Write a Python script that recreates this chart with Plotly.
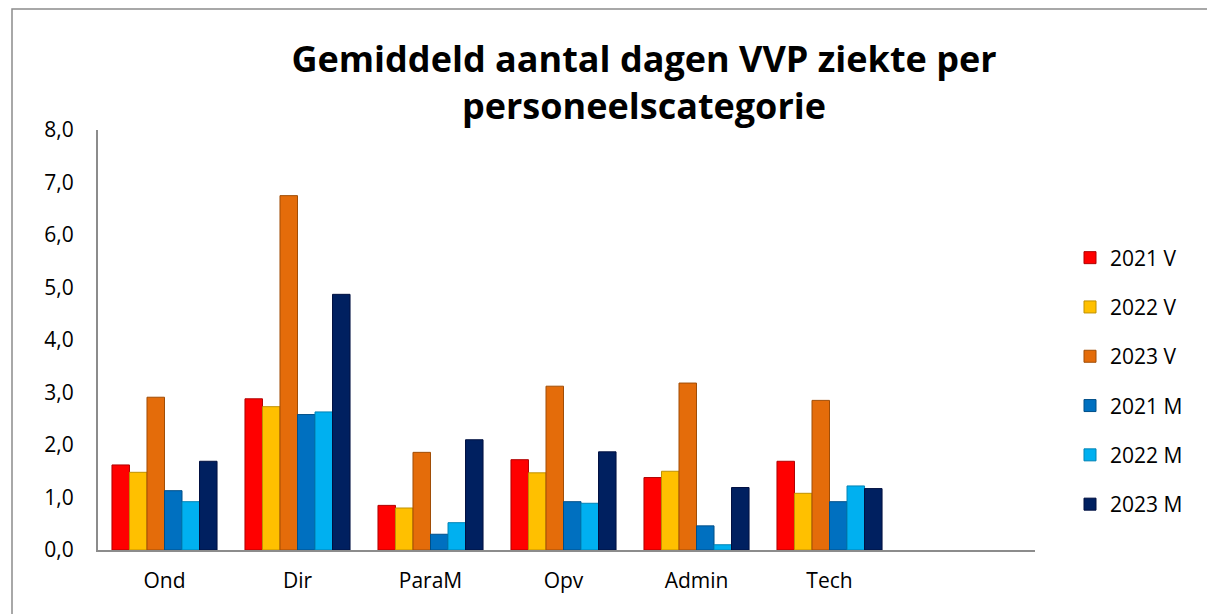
import plotly.graph_objects as go

categories = ["Ond", "Dir", "ParaM", "Opv", "Admin", "Tech"]
series_names = ["2021 V", "2022 V", "2023 V", "2021 M", "2022 M", "2023 M"]
v2021 = [1.62, 2.88, 0.85, 1.72, 1.38, 1.69]
v2022 = [1.48, 2.73, 0.80, 1.47, 1.50, 1.08]
v2023 = [2.91, 6.75, 1.86, 3.12, 3.18, 2.85]
m2021 = [1.13, 2.58, 0.30, 0.92, 0.46, 0.92]
m2022 = [0.92, 2.63, 0.52, 0.89, 0.10, 1.22]
m2023 = [1.69, 4.87, 2.10, 1.87, 1.19, 1.17]
series_values = [v2021, v2022, v2023, m2021, m2022, m2023]
colors = ["#FF0000", "#FFC000", "#E46C0A", "#0070C0", "#00B0F0", "#002060"]
edge = ["#B00000", "#C09000", "#A04D06", "#004F88", "#0083B5", "#001040"]

fig = go.Figure()
for name, vals, c, e in zip(series_names, series_values, colors, edge):
    fig.add_trace(go.Bar(
        x=categories, y=vals, name=name, legendgroup=name,
        marker=dict(color=c, line=dict(color=e, width=1)),
    ))

# page body adds an 8px offset; figure coords = screen coords - 8
W, H = 1207, 606
L, R, T, B = 90, 180, 122, 64
pw, ph = W - L - R, H - T - B

def px_x(x):
    return (x - L) / pw

def px_y(y):
    return (H - B - y) / ph

FONT = "Open Sans, Lato, Liberation Sans, sans-serif"

fig.update_layout(
    width=W, height=H,
    margin=dict(l=L, r=R, t=T, b=B),
    paper_bgcolor="white", plot_bgcolor="white",
    separators=",.",
    barmode="group", bargap=0.21, bargroupgap=0,
    font=dict(family=FONT, color="#000000", size=21),
    title=dict(
        text="<b>Gemiddeld aantal dagen VVP ziekte per<br>personeelscategorie</b>",
        x=636 / W, xanchor="center", xref="container",
        y=1 - 64 / H, yanchor="middle", yref="container",
        font=dict(size=36, color="#000000", family=FONT),
    ),
    xaxis=dict(
        type="category", categoryorder="array", categoryarray=categories,
        range=[-0.5, 6.545], showline=True, linecolor="#8C8C8C", linewidth=2,
        showgrid=False, ticks="", zeroline=False, ticklabelstandoff=11,
        tickfont=dict(size=21),
    ),
    yaxis=dict(
        range=[0, 8], dtick=1, tickformat=".1f", showline=True,
        linecolor="#8C8C8C", linewidth=2, showgrid=False, zeroline=False,
        ticks="", ticklabelstandoff=18, tickfont=dict(size=21),
    ),
    legend=dict(
        x=px_x(1062), xanchor="left", y=px_y(373), yanchor="middle",
        tracegroupgap=19, font=dict(size=21), itemwidth=30,
        bgcolor="rgba(0,0,0,0)",
    ),
    shapes=[dict(
        type="rect", xref="paper", yref="paper",
        x0=px_x(4), x1=px_x(1205), y0=px_y(612), y1=px_y(1),
        line=dict(color="#8C8C8C", width=1.5), layer="below",
    )],
)

fig.write_html("out.html")
